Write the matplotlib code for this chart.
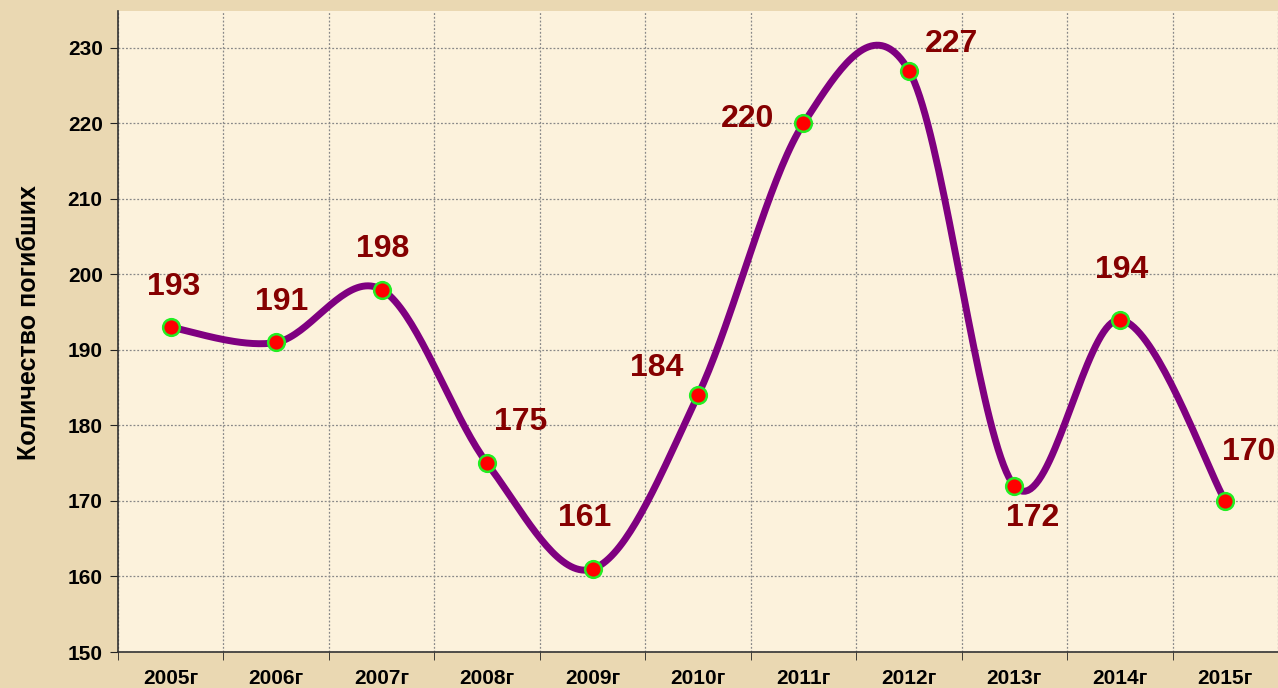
import numpy as np
import matplotlib.pyplot as plt
from matplotlib.ticker import MultipleLocator, FixedLocator

years = ['2005г', '2006г', '2007г', '2008г', '2009г', '2010г',
         '2011г', '2012г', '2013г', '2014г', '2015г']
deaths = [193, 191, 198, 175, 161, 184, 220, 227, 172, 194, 170]
# label offsets in points (dx, dy) relative to each marker
label_offsets = [(2, 29), (4, 29), (1, 29), (24, 30), (-6, 37), (-30, 20),
                 (-40, 3), (31, 19), (13, -23), (1, 36), (17, 35)]

plt.rcParams['font.family'] = ['Liberation Sans', 'DejaVu Sans']

fig = plt.figure(figsize=(12.78, 6.88), dpi=100)
fig.patch.set_facecolor('#EAD8B2')
ax = fig.add_axes([118 / 1278, 1 - 652 / 688, 1 - 118 / 1278, (652 - 11) / 688])
ax.set_facecolor('#FCF2DC')

x = np.arange(len(deaths), dtype=float)
y = np.array(deaths, dtype=float)


# Excel-like smoothed line (Catmull-Rom / cubic bezier through the points)
def smooth(xs, ys, n=40):
    px = np.concatenate([[xs[0]], xs, [xs[-1]]])
    py = np.concatenate([[ys[0]], ys, [ys[-1]]])
    out_x, out_y = [], []
    t = np.linspace(0, 1, n)
    for i in range(1, len(px) - 2):
        p0 = np.array([px[i - 1], py[i - 1]])
        p1 = np.array([px[i], py[i]])
        p2 = np.array([px[i + 1], py[i + 1]])
        p3 = np.array([px[i + 2], py[i + 2]])
        c1 = p1 + (p2 - p0) / 6
        c2 = p2 - (p3 - p1) / 6
        b = ((1 - t) ** 3)[:, None] * p1 + (3 * (1 - t) ** 2 * t)[:, None] * c1 \
            + (3 * (1 - t) * t ** 2)[:, None] * c2 + (t ** 3)[:, None] * p2
        out_x.extend(b[:, 0])
        out_y.extend(b[:, 1])
    return out_x, out_y


sx, sy = smooth(x, y)
ax.plot(sx, sy, color='#7F0080', lw=5, solid_capstyle='round', zorder=3)
ax.plot(x, y, 'o', ms=12, mfc='#FF0000', mec='#22EE22', mew=1.8, zorder=4)

for xi, yi, v, (dx, dy) in zip(x, y, deaths, label_offsets):
    ax.annotate(str(v), (xi, yi), xytext=(dx, dy), textcoords='offset points',
                ha='center', va='center', fontsize=23, fontweight='bold',
                color='#850000', zorder=5)

ax.set_xlim(-0.5, len(deaths) - 0.5)
ax.set_ylim(150, 234.9)
ax.yaxis.set_major_locator(MultipleLocator(10))
ax.set_xticks(x)
ax.set_xticklabels(years)
ax.xaxis.set_minor_locator(FixedLocator(np.arange(-0.5, len(deaths), 1.0)))

ax.tick_params(axis='x', which='major', length=0, pad=12)
ax.tick_params(axis='x', which='minor', length=6, direction='out', color='#222222')
ax.tick_params(axis='y', length=6, direction='out', color='#222222', pad=5)
for lab in ax.get_xticklabels() + ax.get_yticklabels():
    lab.set_fontsize(15)
    lab.set_fontweight('bold')

ax.grid(axis='y', which='major', ls=(0, (1.5, 1.5)), color='#888888', lw=0.9)
ax.grid(axis='x', which='minor', ls=(0, (1.5, 1.5)), color='#888888', lw=0.9)
ax.set_axisbelow(True)

for s in ['top', 'right']:
    ax.spines[s].set_visible(False)
for s in ['left', 'bottom']:
    ax.spines[s].set_color('#333333')
    ax.spines[s].set_linewidth(1.2)

fig.text(29 / 1278, 1 - 323 / 688, 'Количество погибших', rotation=90,
         ha='center', va='center', fontsize=18, fontweight='bold')

fig.savefig('out.png', dpi=100, facecolor=fig.get_facecolor())
